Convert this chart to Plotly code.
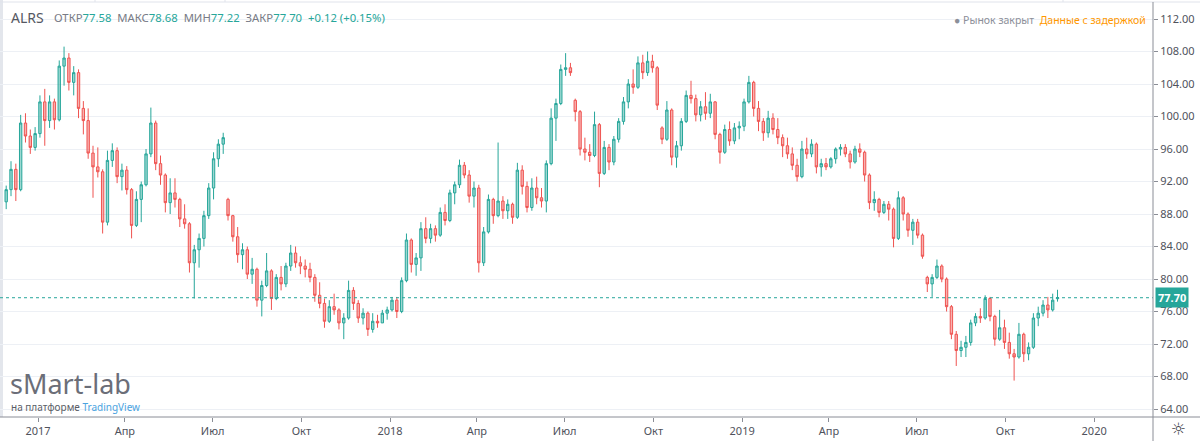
import pandas as pd
import plotly.graph_objects as go

# ---------------- data ----------------
ticker = "ALRS"
first_day = "2016-11-29"      # first candle
bar_step = "5D"               # one candle per ~5 calendar days

opens = [
    89.5, 91.0, 93.5, 91.0, 99.2, 97.6, 96.2, 97.9, 101.8, 99.5,
    101.8, 99.6, 106.2, 107.2, 104.2, 105.4, 101.0, 99.5, 95.5, 93.8,
    93.2, 87.0, 94.6, 95.8, 92.6, 93.4, 91.0, 86.6, 89.8, 91.6,
    95.4, 99.2, 94.2, 92.8, 89.4, 90.6, 89.8, 87.4, 86.8, 82.0,
    83.6, 85.0, 87.8, 91.2, 94.8, 96.6, 89.8, 87.8, 85.2, 83.0,
    83.6, 80.6, 81.2, 77.4, 79.2, 81.0, 77.6, 80.2, 79.4, 81.6,
    83.2, 82.0, 81.6, 81.2, 80.2, 78.0, 77.0, 74.8, 76.6, 76.2,
    74.6, 75.2, 78.6, 77.0, 75.2, 75.8, 73.8, 74.8, 74.6, 75.8,
    76.2, 77.4, 76.0, 79.8, 84.8, 81.8, 82.6, 86.2, 85.0, 86.2,
    85.4, 88.2, 87.2, 90.6, 91.6, 94.0, 92.8, 90.2, 91.2, 82.0,
    85.8, 89.8, 87.8, 89.6, 88.4, 89.2, 87.6, 93.4, 91.4, 88.8,
    91.2, 90.0, 89.6, 94.2, 99.8, 101.6, 105.8, 106.0, 102.0, 100.6,
    96.0, 95.6, 95.2, 99.0, 93.0, 96.2, 94.4, 97.2, 99.4, 101.8,
    104.0, 103.6, 106.6, 105.4, 106.8, 106.0, 98.6, 97.2, 100.8, 95.0,
    96.4, 99.4, 102.6, 102.2, 100.2, 101.2, 100.4, 101.8, 97.8, 95.6,
    98.4, 97.0, 98.6, 98.8, 101.8, 104.2, 101.0, 99.4, 98.0, 99.8,
    98.4, 97.4, 96.4, 95.4, 94.0, 92.6, 96.0, 95.4, 96.6, 93.8,
    94.2, 93.8, 94.8, 96.0, 96.2, 95.4, 94.4, 96.0, 95.6, 92.8,
    89.4, 89.8, 88.2, 89.2, 88.6, 85.0, 90.0, 88.0, 86.0, 87.0,
    85.4, 80.2, 79.4, 80.2, 81.6, 80.0, 76.6, 73.2, 71.2, 71.6,
    72.2, 74.6, 75.4, 75.2, 77.6, 75.4, 72.6, 74.0, 72.2, 70.8,
    70.4, 73.2, 70.8, 71.6, 75.2, 75.8, 76.8, 76.2, 77.58,
]
highs = [
    91.5, 94.5, 94.2, 100.2, 100.4, 98.4, 98.7, 102.6, 103.4, 102.6,
    102.2, 106.9, 108.6, 107.8, 106.2, 105.8, 101.9, 101.0, 96.4, 96.2,
    93.5, 95.8, 96.7, 96.2, 94.2, 93.9, 91.2, 90.8, 92.0, 96.0,
    101.1, 99.5, 95.2, 93.0, 92.4, 92.4, 90.0, 89.2, 87.0, 84.2,
    85.6, 88.4, 91.8, 95.6, 97.2, 98.0, 90.0, 87.9, 86.4, 84.4,
    84.0, 82.6, 81.4, 79.8, 83.2, 81.2, 80.6, 81.6, 82.0, 84.2,
    84.0, 82.8, 82.4, 82.0, 80.6, 79.6, 77.6, 77.4, 78.2, 76.4,
    75.8, 79.8, 79.0, 77.4, 76.4, 76.0, 75.8, 75.6, 76.2, 76.6,
    77.8, 77.8, 80.2, 85.6, 85.0, 83.2, 87.0, 87.6, 86.8, 86.6,
    88.8, 89.2, 91.0, 92.0, 94.7, 94.4, 93.4, 92.0, 91.6, 86.4,
    90.4, 90.0, 96.8, 90.2, 89.8, 89.4, 94.3, 94.0, 92.0, 92.4,
    92.6, 91.2, 94.6, 101.0, 102.2, 106.4, 107.8, 106.6, 102.2, 100.8,
    97.4, 96.6, 100.6, 99.2, 97.0, 96.6, 97.6, 99.8, 102.4, 104.6,
    105.8, 107.4, 107.6, 108.0, 107.6, 106.2, 98.8, 101.9, 101.0, 97.0,
    99.8, 103.2, 104.4, 102.7, 101.9, 103.0, 102.8, 101.9, 98.0, 99.0,
    99.4, 99.2, 99.4, 102.2, 105.0, 104.4, 101.9, 99.8, 100.7, 100.4,
    99.8, 97.8, 97.4, 96.2, 94.8, 97.0, 97.4, 97.2, 96.8, 94.8,
    94.9, 95.0, 96.2, 96.6, 96.6, 95.8, 96.4, 96.7, 95.8, 93.0,
    90.8, 90.0, 89.6, 89.6, 88.8, 90.8, 90.2, 88.2, 87.4, 87.4,
    85.6, 80.4, 80.6, 82.4, 81.8, 80.2, 76.8, 73.6, 72.4, 73.0,
    75.0, 75.8, 76.4, 78.0, 77.8, 75.6, 76.2, 75.0, 73.4, 71.4,
    74.6, 73.4, 72.2, 75.8, 76.6, 77.4, 77.8, 78.2, 78.68,
]
lows = [
    88.6, 90.2, 89.6, 90.8, 96.8, 95.4, 95.8, 97.4, 96.4, 98.6,
    98.4, 99.4, 103.8, 103.2, 102.6, 99.8, 97.8, 94.8, 90.0, 92.5,
    85.6, 86.6, 93.8, 91.8, 90.9, 90.4, 85.0, 86.4, 87.0, 91.4,
    95.0, 93.4, 91.6, 88.2, 88.0, 88.8, 86.4, 86.2, 80.8, 77.6,
    81.4, 84.0, 87.4, 89.8, 93.8, 95.4, 87.2, 84.6, 82.0, 81.2,
    80.0, 79.4, 76.6, 75.4, 79.0, 76.2, 77.4, 78.6, 79.0, 81.0,
    81.4, 80.6, 80.2, 79.6, 77.2, 76.4, 74.0, 74.6, 75.6, 73.8,
    72.6, 75.0, 76.2, 74.6, 74.4, 73.0, 73.4, 74.0, 74.6, 75.0,
    76.0, 75.2, 75.8, 79.6, 80.8, 80.4, 81.0, 84.4, 84.4, 84.6,
    85.2, 86.6, 87.0, 89.2, 91.2, 92.4, 89.4, 88.8, 80.8, 81.6,
    85.6, 86.8, 87.6, 87.4, 87.4, 86.8, 87.4, 90.4, 88.2, 88.4,
    89.2, 88.8, 88.2, 94.0, 97.0, 101.4, 105.0, 105.0, 99.4, 95.2,
    94.6, 94.4, 95.0, 91.3, 92.8, 93.4, 94.0, 96.8, 99.0, 101.0,
    102.8, 103.4, 104.6, 105.0, 105.4, 100.8, 96.6, 97.0, 94.0, 93.7,
    95.8, 99.2, 101.6, 99.4, 99.4, 99.6, 99.8, 97.2, 94.2, 95.4,
    96.4, 96.6, 97.2, 98.2, 101.6, 100.0, 98.2, 97.0, 97.4, 97.8,
    96.6, 95.0, 94.8, 93.4, 92.0, 92.4, 94.8, 95.0, 93.0, 92.6,
    93.4, 93.6, 94.2, 95.2, 95.0, 93.6, 94.2, 95.0, 92.0, 88.6,
    88.4, 87.6, 88.0, 87.2, 83.9, 84.8, 87.2, 85.2, 84.2, 85.0,
    82.5, 78.4, 77.8, 80.0, 79.6, 76.0, 72.6, 69.3, 70.4, 70.4,
    71.8, 74.2, 74.6, 75.0, 74.8, 71.8, 72.4, 71.4, 70.2, 67.5,
    70.2, 69.8, 70.0, 71.4, 74.2, 75.4, 75.2, 76.0, 77.22,
]
closes = [
    91.0, 93.5, 91.0, 99.2, 97.6, 96.2, 97.9, 101.8, 99.5, 101.8,
    99.6, 106.2, 107.2, 104.2, 105.4, 101.0, 99.5, 95.5, 93.8, 93.2,
    87.0, 94.6, 95.8, 92.6, 93.4, 91.0, 86.6, 89.8, 91.6, 95.4,
    99.2, 94.2, 92.8, 89.4, 90.6, 89.8, 87.4, 86.8, 82.0, 83.6,
    85.0, 87.8, 91.2, 94.8, 96.6, 97.4, 87.8, 85.2, 83.0, 83.6,
    80.6, 81.2, 77.4, 79.2, 81.0, 77.6, 80.2, 79.4, 81.6, 83.2,
    82.0, 81.6, 81.2, 80.2, 78.0, 77.0, 74.8, 76.6, 76.2, 74.6,
    75.2, 78.6, 77.0, 75.2, 75.8, 73.8, 74.8, 74.6, 75.8, 76.2,
    77.4, 76.0, 79.8, 84.8, 81.8, 82.6, 86.2, 85.0, 86.2, 85.4,
    88.2, 87.2, 90.6, 91.6, 94.0, 92.8, 90.2, 91.2, 82.0, 85.8,
    89.8, 87.8, 89.6, 88.4, 89.2, 87.6, 93.4, 91.4, 88.8, 91.2,
    90.0, 89.6, 94.2, 99.8, 101.6, 105.8, 106.0, 105.4, 100.6, 96.0,
    95.6, 95.2, 99.0, 93.0, 96.2, 94.4, 97.2, 99.4, 101.8, 104.0,
    103.6, 106.6, 105.4, 106.8, 106.0, 101.4, 97.2, 100.8, 95.0, 96.4,
    99.4, 102.6, 102.2, 100.2, 101.2, 100.4, 101.8, 97.8, 95.6, 98.4,
    97.0, 98.6, 98.8, 101.8, 104.2, 101.0, 99.4, 98.0, 99.8, 98.4,
    97.4, 96.4, 95.4, 94.0, 92.6, 96.0, 95.4, 96.6, 93.8, 94.2,
    93.8, 94.8, 96.0, 96.2, 95.4, 94.4, 96.0, 95.6, 92.8, 89.4,
    89.8, 88.2, 89.2, 88.6, 85.0, 90.0, 88.0, 86.0, 87.0, 85.4,
    82.8, 79.4, 80.2, 81.6, 80.0, 76.6, 73.2, 71.2, 71.6, 72.2,
    74.6, 75.4, 75.2, 77.6, 75.4, 72.6, 74.0, 72.2, 70.8, 70.4,
    73.2, 70.8, 71.6, 75.2, 75.8, 76.8, 76.2, 77.4, 77.70,
]

tick_dates = ["2017-01-01", "2017-04-01", "2017-07-01", "2017-10-01",
              "2018-01-01", "2018-04-01", "2018-07-01", "2018-10-01",
              "2019-01-01", "2019-04-01", "2019-07-01", "2019-10-01",
              "2020-01-01"]
tick_text = ["2017", "Апр", "Июл", "Окт", "2018", "Апр", "Июл", "Окт",
             "2019", "Апр", "Июл", "Окт", "2020"]
price_ticks = [64, 68, 72, 76, 80, 84, 88, 92, 96, 100, 104, 108, 112]

last_open, last_high, last_low, last_close = 77.58, 78.68, 77.22, 77.70
change_abs, change_pct = 0.12, 0.15

# ---------------- styling ----------------
W, H = 1200, 441
PLOT_W, PLOT_H = 1153, 417          # plot area (pixels)
UP = "#26a69a"
DOWN = "#ef5350"
TXT = "#4f525c"
FONT = "Noto Sans"
X_RANGE = ["2016-11-22 14:00", "2020-03-02"]
Y_RANGE = [63.02, 114.34]


def px(x):
    return x / PLOT_W


def py(y):
    return 1 - y / PLOT_H


dates = pd.date_range(first_day, periods=len(closes), freq=bar_step)

fig = go.Figure()
fig.add_trace(go.Candlestick(
    x=dates, open=opens, high=highs, low=lows, close=closes,
    increasing=dict(line=dict(color=UP, width=1), fillcolor="rgba(38,166,154,0.45)"),
    decreasing=dict(line=dict(color=DOWN, width=1), fillcolor="rgba(239,83,80,0.45)"),
    whiskerwidth=0, hoverinfo="skip", showlegend=False,
))

shapes = [
    # last price dotted line
    dict(type="line", xref="paper", yref="y", x0=0, x1=1, y0=last_close, y1=last_close,
         line=dict(color=UP, width=1, dash="dot")),
    # left border strip
    dict(type="rect", xref="paper", yref="paper", x0=0, x1=px(3), y0=0, y1=1,
         fillcolor="#e3e6ec", line=dict(width=0), layer="below"),
    # top toolbar border
    dict(type="line", xref="paper", yref="paper", x0=0, x1=W / PLOT_W, y0=py(2), y1=py(2),
         line=dict(color="#e0e3eb", width=1)),
    # time axis line
    dict(type="line", xref="paper", yref="paper", x0=0, x1=W / PLOT_W, y0=0, y1=0,
         line=dict(color="#8a8d96", width=1)),
    # price axis line
    dict(type="line", xref="paper", yref="paper", x0=1, x1=1, y0=py(H), y1=py(2),
         line=dict(color="#8a8d96", width=1)),
]
for sx in (95, 225, 1063):
    shapes.append(dict(type="line", xref="paper", yref="paper", x0=px(sx), x1=px(sx),
                       y0=py(2), y1=py(0), line=dict(color="#e0e3eb", width=1)))

annotations = [
    dict(text=ticker, x=px(9), y=py(18), xanchor="left", yanchor="middle",
         font=dict(size=14, color="#555862", family=FONT)),
    dict(text=(f"<span style='color:#787b86'>ОТКР</span><span style='color:{UP}'>{last_open:.2f}</span>  "
               f"<span style='color:#787b86'>МАКС</span><span style='color:{UP}'>{last_high:.2f}</span>  "
               f"<span style='color:#787b86'>МИН</span><span style='color:{UP}'>{last_low:.2f}</span>  "
               f"<span style='color:#787b86'>ЗАКР</span><span style='color:{UP}'>{last_close:.2f}</span>  "
               f"<span style='color:{UP}'>+{change_abs:.2f} (+{change_pct:.2f}%)</span>"),
         x=px(52), y=py(18), xanchor="left", yanchor="middle",
         font=dict(size=11.3, color="#787b86", family=FONT)),
    dict(text=("<span style='color:#8c8f99'>● Рынок закрыт</span>  "
               "<span style='color:#ff9800'>Данные с задержкой</span>"),
         x=px(1148), y=py(20), xanchor="right", yanchor="middle",
         font=dict(size=10.5, family=FONT)),
    dict(text="sMart-lab", x=px(8), y=py(383), xanchor="left", yanchor="middle",
         font=dict(size=27, color="#6b6e78", family=FONT)),
    dict(text="на платформе <span style='color:#4aa3df'>TradingView</span>",
         x=px(9), y=py(407), xanchor="left", yanchor="middle",
         font=dict(size=10, color="#5a5d66", family=FONT)),
    dict(text=f"<b>{last_close:.2f}</b>", xref="paper", yref="y", x=px(1155), y=last_close,
         xanchor="left", yanchor="middle", bgcolor=UP, borderpad=2,
         font=dict(size=11, color="white", family=FONT)),
    dict(text="☼", x=px(1178), y=py(428.5), xanchor="center", yanchor="middle",
         font=dict(size=17, color="#3f424c", family="DejaVu Sans")),
]
for a in annotations:
    a.setdefault("xref", "paper")
    a.setdefault("yref", "paper")
    a["showarrow"] = False

fig.update_layout(
    width=W, height=H,
    margin=dict(l=0, r=W - PLOT_W, t=0, b=H - PLOT_H),
    paper_bgcolor="white", plot_bgcolor="white",
    font=dict(family=FONT, size=11, color=TXT),
    shapes=shapes, annotations=annotations,
    hovermode=False,
    xaxis=dict(type="date", range=X_RANGE, tickvals=tick_dates, ticktext=tick_text,
               showgrid=False, zeroline=False, showline=False,
               ticks="outside", ticklen=4, tickcolor="#8a8d96",
               tickfont=dict(size=11, color=TXT), rangeslider=dict(visible=False),
               fixedrange=True),
    yaxis=dict(side="right", range=Y_RANGE, tickvals=price_ticks, tickformat=".2f",
               showgrid=True, gridcolor="#edf0f5", gridwidth=1, zeroline=False, showline=False,
               ticks="outside", ticklen=4, tickcolor="#8a8d96",
               tickfont=dict(size=11, color=TXT), fixedrange=True),
)

fig.write_html("out.html", config={"displayModeBar": False},
               post_script="document.body.style.margin='0';")
